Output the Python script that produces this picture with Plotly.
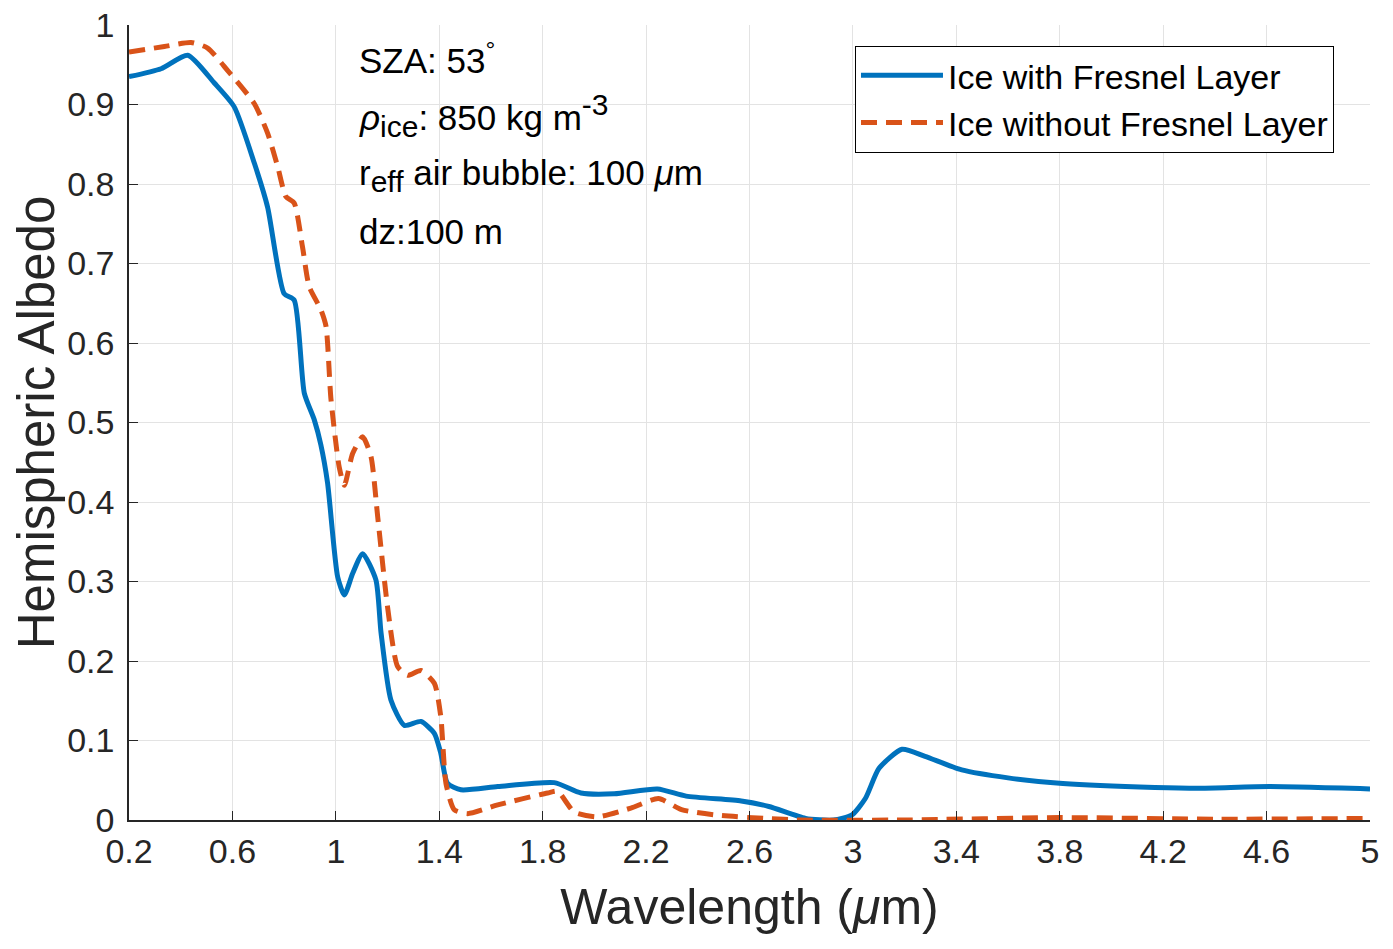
import plotly.graph_objects as go

wl_fresnel = [0.2, 0.324, 0.427, 0.53, 0.607, 0.685, 0.736, 0.80, 0.839, 0.878, 0.917,
              0.942, 0.968, 1.007, 1.033, 1.065, 1.104, 1.155, 1.175, 1.213, 1.265, 1.329,
              1.381, 1.406, 1.432, 1.484, 1.626, 1.845, 1.948, 2.077, 2.244, 2.355, 2.568,
              2.675, 2.817, 2.924, 2.995, 3.048, 3.101, 3.19, 3.279, 3.421, 3.6, 3.812,
              4.168, 4.346, 4.612, 5.0]
alb_fresnel = [0.935, 0.945, 0.962, 0.927, 0.897, 0.826, 0.771, 0.662, 0.654, 0.537, 0.503,
               0.472, 0.424, 0.306, 0.283, 0.31, 0.335, 0.302, 0.235, 0.151, 0.119, 0.124,
               0.109, 0.084, 0.046, 0.038, 0.042, 0.047, 0.034, 0.033, 0.039, 0.030, 0.024,
               0.017, 0.002, 0.0, 0.006, 0.027, 0.065, 0.089, 0.080, 0.063, 0.053, 0.046,
               0.041, 0.040, 0.042, 0.039]

wl_nofresnel = [0.2, 0.337, 0.44, 0.504, 0.581, 0.685, 0.736, 0.775, 0.807, 0.839, 0.871,
                0.897, 0.942, 0.962, 0.981, 1.013, 1.033, 1.065, 1.104, 1.136, 1.162, 1.2,
                1.239, 1.278, 1.329, 1.381, 1.406, 1.426, 1.458, 1.51, 1.626, 1.819, 1.858,
                1.922, 2.012, 2.141, 2.248, 2.337, 2.479, 2.657, 2.8, 3.2, 3.8, 4.4, 5.0]
alb_nofresnel = [0.966, 0.973, 0.978, 0.971, 0.943, 0.901, 0.864, 0.822, 0.784, 0.776, 0.721,
                 0.671, 0.642, 0.621, 0.53, 0.444, 0.421, 0.461, 0.482, 0.457, 0.381, 0.268,
                 0.193, 0.182, 0.188, 0.172, 0.130, 0.046, 0.013, 0.008, 0.019, 0.034, 0.036,
                 0.010, 0.004, 0.015, 0.027, 0.013, 0.006, 0.002, 0.0, 0.0, 0.003, 0.001, 0.002]

x_ticks = [0.2, 0.6, 1, 1.4, 1.8, 2.2, 2.6, 3, 3.4, 3.8, 4.2, 4.6, 5]
y_ticks = [0, 0.1, 0.2, 0.3, 0.4, 0.5, 0.6, 0.7, 0.8, 0.9, 1]

font = 'Liberation Sans, Arial, sans-serif'
sub = '<span style="font-size:30px">'

fig = go.Figure()
fig.add_trace(go.Scatter(x=wl_fresnel, y=alb_fresnel, mode='lines',
                         name='Ice with Fresnel Layer',
                         line=dict(color='#0072BD', width=5, shape='spline', smoothing=0.6)))
fig.add_trace(go.Scatter(x=wl_nofresnel, y=alb_nofresnel, mode='lines',
                         name='Ice without Fresnel Layer',
                         line=dict(color='#D95319', width=5, dash='16px,9px',
                                   shape='spline', smoothing=0.6)))

notes = ['SZA: 53<sup>°</sup>',
         '<i>ρ</i><sub>' + sub + 'ice</span></sub>: 850 kg m<sup>' + sub + '-3</span></sup>',
         'r<sub>' + sub + 'eff</span></sub> air bubble: 100 <i>μ</i>m',
         'dz:100 m']
note_y = [0.958, 0.886, 0.811, 0.74]
for txt, yy in zip(notes, note_y):
    fig.add_annotation(x=1.08, y=yy, xref='x', yref='y', text=txt, showarrow=False,
                       xanchor='left', yanchor='middle',
                       font=dict(family=font, size=35, color='black'))

# page body adds an 8px margin, so the figure is 16px smaller than the window
fig.update_layout(
    width=1377, height=933,
    margin=dict(l=121, r=15, t=17, b=121, autoexpand=False),
    plot_bgcolor='white', paper_bgcolor='white',
    font=dict(family=font, color='#262626'),
    legend=dict(x=0.585, y=0.974, xanchor='left', yanchor='top',
                bordercolor='black', borderwidth=1, bgcolor='white',
                font=dict(family=font, size=34, color='black'),
                itemwidth=82, tracegroupgap=0),
    xaxis=dict(range=[0.2, 5], tickvals=x_ticks, ticktext=[f'{v:g}' for v in x_ticks],
               showgrid=True, gridcolor='#e3e3e3', gridwidth=1, zeroline=False,
               showline=True, linecolor='#262626', linewidth=1.5, automargin=False,
               ticks='inside', ticklen=9, tickcolor='#262626', ticklabeloverflow='allow',
               tickfont=dict(size=34, color='#262626'),
               title=dict(text='Wavelength (<i>μ</i>m)', font=dict(size=50, color='#262626'),
                          standoff=20)),
    yaxis=dict(range=[0, 1], tickvals=y_ticks, ticktext=[f'{v:g}' for v in y_ticks],
               showgrid=True, gridcolor='#e3e3e3', gridwidth=1, zeroline=False,
               showline=True, linecolor='#262626', linewidth=1.5, automargin=False,
               ticks='inside', ticklen=9, tickcolor='#262626', ticklabelstandoff=6,
               ticklabeloverflow='allow',
               tickfont=dict(size=34, color='#262626'),
               title=dict(text='Hemispheric Albedo', font=dict(size=51, color='#262626'),
                          standoff=17)),
)

fig.write_html('out.html')
